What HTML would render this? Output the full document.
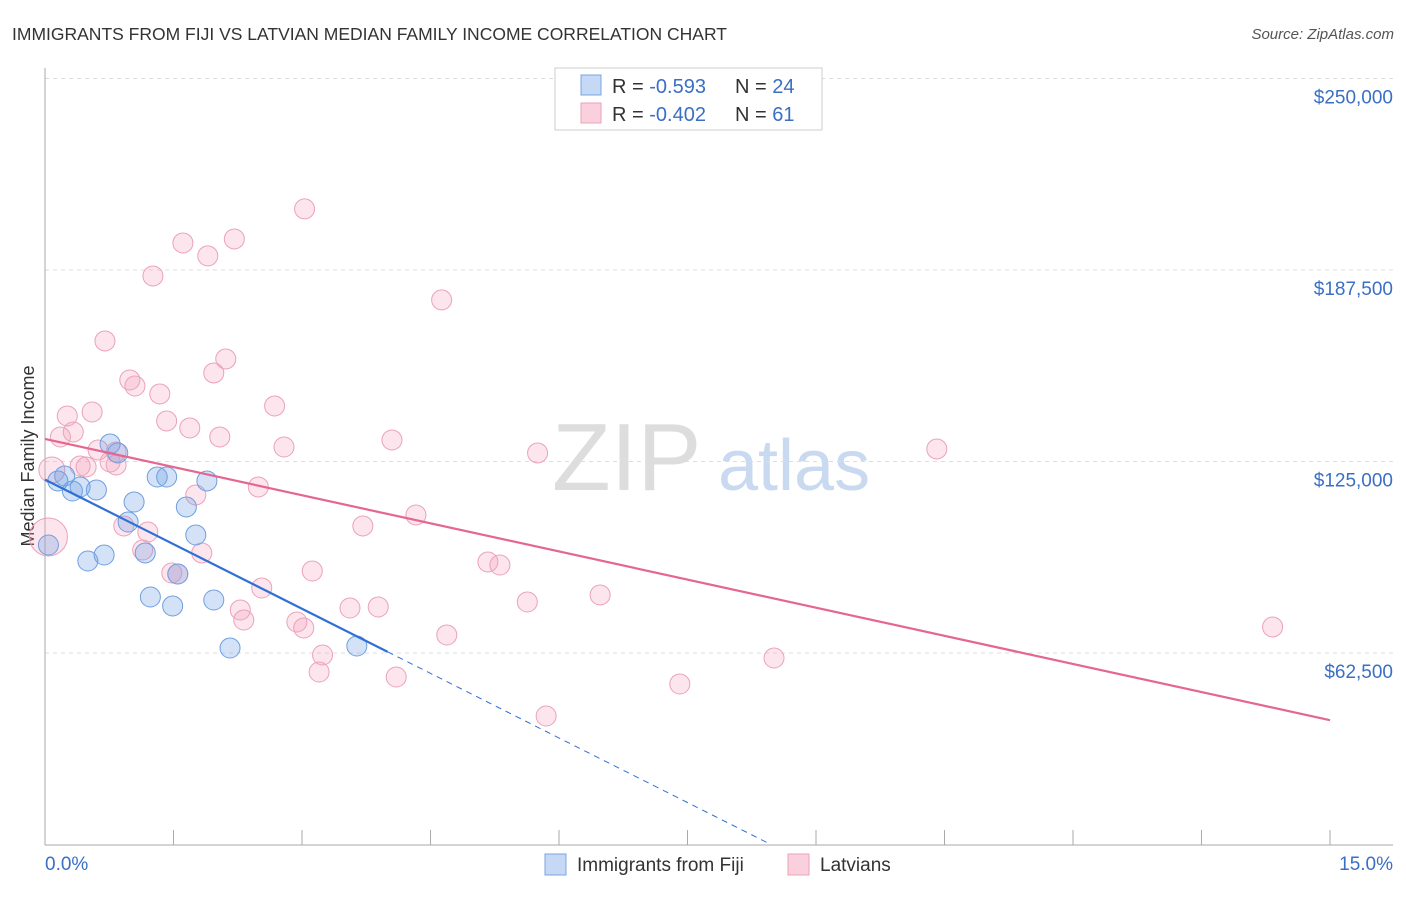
<!DOCTYPE html>
<html><head><meta charset="utf-8"><style>
body{margin:0;background:#fff;font-family:"Liberation Sans",sans-serif}
svg text{font-family:"Liberation Sans",sans-serif}
</style></head><body>
<svg id="c" width="1406" height="892" xmlns="http://www.w3.org/2000/svg">
<text x="12" y="40" font-size="17.5" fill="#333">IMMIGRANTS FROM FIJI VS LATVIAN MEDIAN FAMILY INCOME CORRELATION CHART</text>
<text x="1394" y="39" font-size="15" fill="#555" text-anchor="end" font-style="italic">Source: ZipAtlas.com</text>
<g><text x="552" y="490" font-size="96" fill="#ddd" font-family="Liberation Serif">ZIP</text><text x="718" y="490" font-size="72" fill="#c9d9f0">atlas</text></g>
<text x="34" y="456" font-size="18" fill="#333" text-anchor="middle" transform="rotate(-90 34 456)">Median Family Income</text>
<g id="grid"></g><g id="pts"></g><g id="lines"></g>
<g>
<rect x="555" y="68" width="267" height="62" fill="#fff" stroke="#ccc"/>
<rect x="581" y="75" width="20" height="20" fill="#c5d8f5" stroke="#7aa4e0"/>
<rect x="581" y="103" width="20" height="20" fill="#fbd0dd" stroke="#eba2ba"/>
<text x="612" y="93" font-size="20" fill="#333">R = <tspan fill="#3a6fc4">-0.593</tspan><tspan x="735">N = </tspan><tspan fill="#3a6fc4">24</tspan></text>
<text x="612" y="121" font-size="20" fill="#333">R = <tspan fill="#3a6fc4">-0.402</tspan><tspan x="735">N = </tspan><tspan fill="#3a6fc4"> 61</tspan></text>
</g>
<g>
<rect x="545" y="854" width="21" height="21" fill="#c5d8f5" stroke="#7aa4e0"/>
<text x="577" y="871" font-size="19" fill="#333">Immigrants from Fiji</text>
<rect x="788" y="854" width="21" height="21" fill="#fbd0dd" stroke="#eba2ba"/>
<text x="820" y="871" font-size="19" fill="#333">Latvians</text>
</g>
</svg>
<script>
const fijiX=[0.04,0.15,0.23,0.32,0.41,0.60,0.50,0.69,0.76,0.85,0.97,1.04,1.17,1.23,1.31,1.42,1.49,1.55,1.65,1.76,1.89,1.97,2.16,3.64];
const fijiY=[97750,118650,120280,115380,116690,115710,92530,94490,130720,127790,105260,111790,95150,80780,119950,119950,77850,88290,110160,101020,118650,79800,64140,64790];
const latX=[0.04,0.08,0.18,0.26,0.33,0.41,0.48,0.55,0.62,0.70,0.76,0.83,0.83,0.92,0.99,1.05,1.20,1.14,1.34,1.42,1.48,1.55,1.61,1.69,1.76,1.83,1.90,1.26,1.97,2.04,2.11,2.21,2.28,2.32,2.49,2.53,2.68,2.79,2.94,3.02,3.03,3.12,3.20,3.24,3.56,3.71,3.89,4.05,4.10,4.33,4.63,4.69,5.17,5.31,5.63,5.75,5.85,6.48,7.41,8.51,10.41,14.33];
const latY=[100370,122240,133010,139860,134640,123540,123220,141170,128770,164340,124850,123870,128110,103960,151610,149650,102000,96120,147040,138230,88620,88290,196330,135950,114080,95150,192090,185560,153900,133010,158470,197630,76540,73280,116690,83720,143130,129740,72620,70670,207430,89270,56300,61850,77190,103960,77520,132030,54670,107550,177730,68380,92210,91230,79150,127790,41940,81440,52390,60870,129090,70990];
const yTicks=[62500,125000,187500,250000];
const yTickLabels=["$62,500","$125,000","$187,500","$250,000"];
const xTicks=[0,1.5,3,4.5,6,7.5,9,10.5,12,13.5,15];
const NS="http://www.w3.org/2000/svg";
const X=v=>45+v*85.667, Y=v=>844.5-v/62500*191.5;
function mk(t,a,p){const e=document.createElementNS(NS,t);for(const k in a)e.setAttribute(k,a[k]);p.appendChild(e);return e;}
const g=document.getElementById('grid');
yTicks.forEach((t,i)=>{
 const l=mk('line',{x1:45,x2:1393,y1:Y(t),y2:Y(t),stroke:'#ddd','stroke-dasharray':'4,4'},g);
 
 
 const tx=mk('text',{x:1393,y:Y(t)+25,'font-size':19,fill:'#3a6fc4','text-anchor':'end'},g);
 tx.textContent=yTickLabels[i];
 
 
});
const ax=mk('line',{x1:45,x2:45,y1:68,y2:845,stroke:'#aaa'},g);


const bx=mk('line',{x1:45,x2:1393,y1:845,y2:845,stroke:'#aaa'},g);


xTicks.forEach(t=>{const l=mk('line',{x1:X(t),x2:X(t),y1:830,y2:845,stroke:'#aaa'},g);
 
 });
const t0=mk('text',{x:45,y:870,'font-size':19,fill:'#3a6fc4'},g);t0.textContent='0.0%';


const t1=mk('text',{x:1393,y:870,'font-size':19,fill:'#3a6fc4','text-anchor':'end'},g);t1.textContent='15.0%';


const P=document.getElementById('pts');
function dots(xs,ys,fill,stroke,name){xs.forEach((x,i)=>{
 const r=(i===0&&name==='latvian-point')?19:(i===1&&name==='latvian-point')?13:10;
 const c=mk('circle',{cx:X(x),cy:Y(ys[i]),r:r,fill:fill,stroke:stroke,'stroke-width':1},P);
 
 });}
dots(latX,latY,'rgba(244,160,188,0.28)','#eba2ba','latvian-point');
dots(fijiX,fijiY,'rgba(110,160,230,0.3)','#6f9fe0','fiji-point');
function fit(xs,ys){const n=xs.length;let sx=0,sy=0,sxx=0,sxy=0;for(let i=0;i<n;i++){sx+=xs[i];sy+=ys[i];sxx+=xs[i]*xs[i];sxy+=xs[i]*ys[i];}
 const b=(n*sxy-sx*sy)/(n*sxx-sx*sx);return [ (sy-b*sx)/n,b];}
const L=document.getElementById('lines');
const [a1,b1]=fit(latX,latY);
const pl=mk('line',{x1:X(0),y1:Y(a1),x2:X(15),y2:Y(a1+b1*15),stroke:'#e5668f','stroke-width':2.2},L);


const [a2,b2]=fit(fijiX,fijiY);
const xm=Math.max(...fijiX)+0.36, xz=Math.min(15,-a2/b2);
const bl=mk('line',{x1:X(0),y1:Y(a2),x2:X(xm),y2:Y(a2+b2*xm),stroke:'#2f6fd6','stroke-width':2.2},L);


const bd=mk('line',{x1:X(xm),y1:Y(a2+b2*xm),x2:X(xz),y2:Y(a2+b2*xz),stroke:'#2f6fd6','stroke-width':1,'stroke-dasharray':'6,5'},L);


</script>
</body></html>
